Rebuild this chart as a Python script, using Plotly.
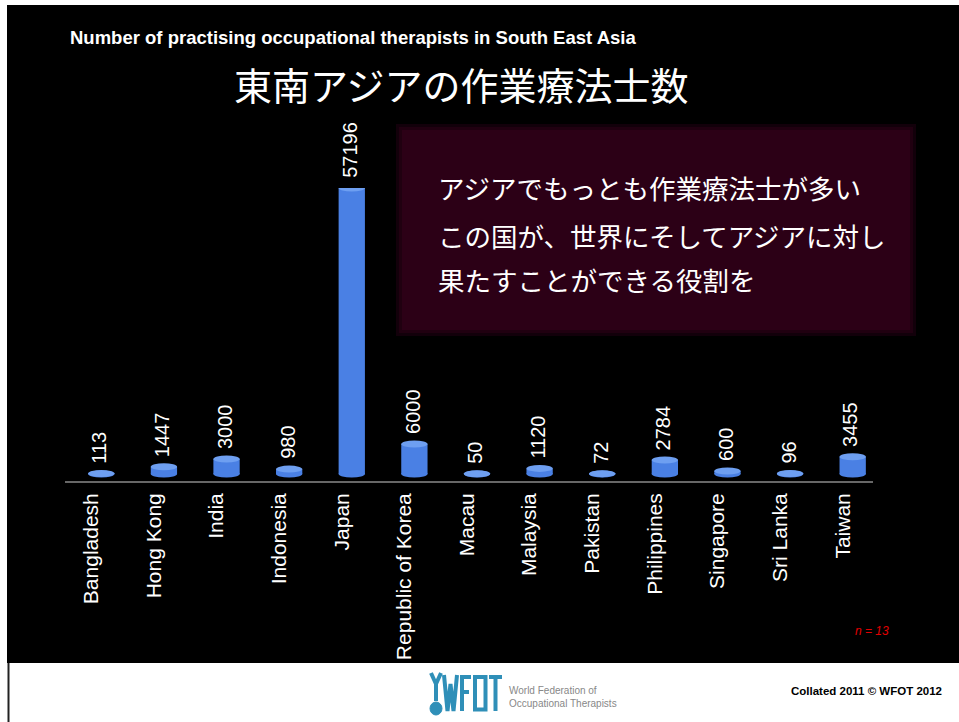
import plotly.graph_objects as go

# ---------------- data ----------------
categories = ["Bangladesh", "Hong Kong", "India", "Indonesia", "Japan",
              "Republic of Korea", "Macau", "Malaysia", "Pakistan",
              "Philippines", "Singapore", "Sri Lanka", "Taiwan"]
therapists = [113, 1447, 3000, 980, 57196, 6000, 50, 1120, 72, 2784, 600, 96, 3455]

title_en = "Number of practising occupational therapists in South East Asia"
title_jp = "東南アジアの作業療法士数"
box_lines = ["アジアでもっとも作業療法士が多い",
             "この国が、世界にそしてアジアに対し",
             "果たすことができる役割を"]
n_note = "n = 13"
footer_note = "Collated 2011 © WFOT 2012"
logo_lines = ["World Federation of", "Occupational Therapists"]

# ---------------- layout helpers ----------------
W, H = 959, 722
def px(x): return x / W
def py(y): return 1 - y / H
def ppath(points):
    return "M " + " L ".join(f"{px(x):.5f},{py(y):.5f}" for x, y in points)

BAR = "#4a80e4"
CAP = "#6e9ff1"
LOGO = "#2f8fb8"
JP_FONT = "Noto Sans CJK JP, sans-serif"
EN_FONT = "Liberation Sans, Arial, sans-serif"

x_idx = list(range(len(categories)))
zero_px, top_px, axis_px = 474, 188, 482
vmax = max(therapists)
units_per_px = vmax / (zero_px - top_px)
ymin = -(axis_px - zero_px) * units_per_px

fig = go.Figure(go.Bar(
    x=x_idx, y=therapists, width=0.42,
    marker=dict(color=BAR, line=dict(width=0)),
    hoverinfo="skip", showlegend=False))

shapes = []
# slide background
shapes.append(dict(type="rect", xref="paper", yref="paper", x0=px(7), x1=1,
                   y0=py(663), y1=py(5), fillcolor="black", line=dict(width=0), layer="below"))
# footer left border line
shapes.append(dict(type="line", xref="paper", yref="paper", x0=px(8.5), x1=px(8.5),
                   y0=py(663), y1=0, line=dict(color="#222222", width=2)))
# text box with soft edge
shapes.append(dict(type="rect", xref="paper", yref="paper", x0=px(396), x1=px(916),
                   y0=py(336), y1=py(124), fillcolor="#12000a", line=dict(width=0), layer="below"))
shapes.append(dict(type="rect", xref="paper", yref="paper", x0=px(399), x1=px(913),
                   y0=py(333), y1=py(127), fillcolor="#200010", line=dict(width=0), layer="below"))
shapes.append(dict(type="rect", xref="paper", yref="paper", x0=px(402), x1=px(910),
                   y0=py(330), y1=py(130), fillcolor="#2c0016", line=dict(width=0), layer="below"))
# axis line
shapes.append(dict(type="line", xref="paper", yref="paper", x0=px(65), x1=px(873),
                   y0=py(axis_px), y1=py(axis_px), line=dict(color="#8a8a8a", width=1.5)))
# cylinder caps
for i, v in zip(x_idx, therapists):
    shapes.append(dict(type="circle", xref="x", yref="y", x0=i - 0.21, x1=i + 0.21,
                       ysizemode="pixel", yanchor=0, y0=-3.5, y1=3.5,
                       fillcolor=BAR, line=dict(width=0), layer="above"))
for i, v in zip(x_idx, therapists):
    shapes.append(dict(type="circle", xref="x", yref="y", x0=i - 0.21, x1=i + 0.21,
                       ysizemode="pixel", yanchor=v, y0=-3.5, y1=3.5,
                       fillcolor=CAP, line=dict(width=0), layer="above"))

# WFOT logo (decorative)
lw = 4
logo_paths = [
    [(444, 675), (447.5, 711), (450.5, 684), (453.5, 711), (457, 675)],  # W
    [(462, 675), (462, 711)], [(462, 677), (471, 677)], [(462, 692), (469, 692)],  # F
    [(489, 677), (502, 677)], [(495.5, 677), (495.5, 711)],  # T
    [(431, 673), (436, 684), (441, 673)], [(436, 684), (436, 701)],  # icon
]
for p in logo_paths:
    shapes.append(dict(type="path", xref="paper", yref="paper", path=ppath(p),
                       line=dict(color=LOGO, width=lw)))
shapes.append(dict(type="rect", xref="paper", yref="paper", x0=px(475), x1=px(485.5),
                   y0=py(709.5), y1=py(677), line=dict(color=LOGO, width=lw)))
shapes.append(dict(type="circle", xref="paper", yref="paper", x0=px(430), x1=px(442),
                   y0=py(715), y1=py(702), fillcolor=LOGO, line=dict(color=LOGO, width=1)))

annotations = []
# value labels
for i, v in zip(x_idx, therapists):
    annotations.append(dict(x=i, y=v, xref="x", yref="y", text=str(v), showarrow=False,
                            textangle=-90, yanchor="bottom", xanchor="center",
                            yshift=8, xshift=-2,
                            font=dict(family=EN_FONT, size=20, color="white")))
# titles
annotations.append(dict(x=px(68), y=py(38), xref="paper", yref="paper", text=f"<b>{title_en}</b>",
                        showarrow=False, xanchor="left", yanchor="middle",
                        font=dict(family=EN_FONT, size=18.5, color="white")))
annotations.append(dict(x=px(461), y=py(83), xref="paper", yref="paper", text=title_jp,
                        showarrow=False, xanchor="center", yanchor="middle",
                        font=dict(family=JP_FONT, size=38, color="white")))
for line, yy in zip(box_lines, [188, 235, 279]):
    annotations.append(dict(x=px(436), y=py(yy), xref="paper", yref="paper", text=line,
                            showarrow=False, xanchor="left", yanchor="middle",
                            font=dict(family=JP_FONT, size=26.5, color="white")))
annotations.append(dict(x=px(872), y=py(631), xref="paper", yref="paper", text=f"<i>{n_note}</i>",
                        showarrow=False, xanchor="center", yanchor="middle",
                        font=dict(family=EN_FONT, size=12, color="#e00000")))
annotations.append(dict(x=px(866), y=py(691), xref="paper", yref="paper", text=f"<b>{footer_note}</b>",
                        showarrow=False, xanchor="center", yanchor="middle",
                        font=dict(family=EN_FONT, size=11.5, color="black")))
for line, yy in zip(logo_lines, [690, 703]):
    annotations.append(dict(x=px(507), y=py(yy), xref="paper", yref="paper", text=line,
                            showarrow=False, xanchor="left", yanchor="middle",
                            font=dict(family=EN_FONT, size=10, color="#888888")))

fig.update_layout(
    width=W, height=H,
    margin=dict(l=0, r=0, t=0, b=0),
    paper_bgcolor="white", plot_bgcolor="rgba(0,0,0,0)",
    shapes=shapes, annotations=annotations,
    xaxis=dict(domain=[px(70), px(884)], range=[-0.5, len(categories) - 0.5],
               tickmode="array", tickvals=x_idx, ticktext=categories,
               tickangle=-90, ticks="", showgrid=False, zeroline=False, showline=False,
               ticklabelshift=-10, ticklabelstandoff=6,
               tickfont=dict(family=EN_FONT, size=21, color="white"), fixedrange=True),
    yaxis=dict(domain=[py(axis_px), py(top_px)], range=[ymin, vmax], visible=False,
               fixedrange=True),
    bargap=0.5,
)

fig.write_html("out.html")
